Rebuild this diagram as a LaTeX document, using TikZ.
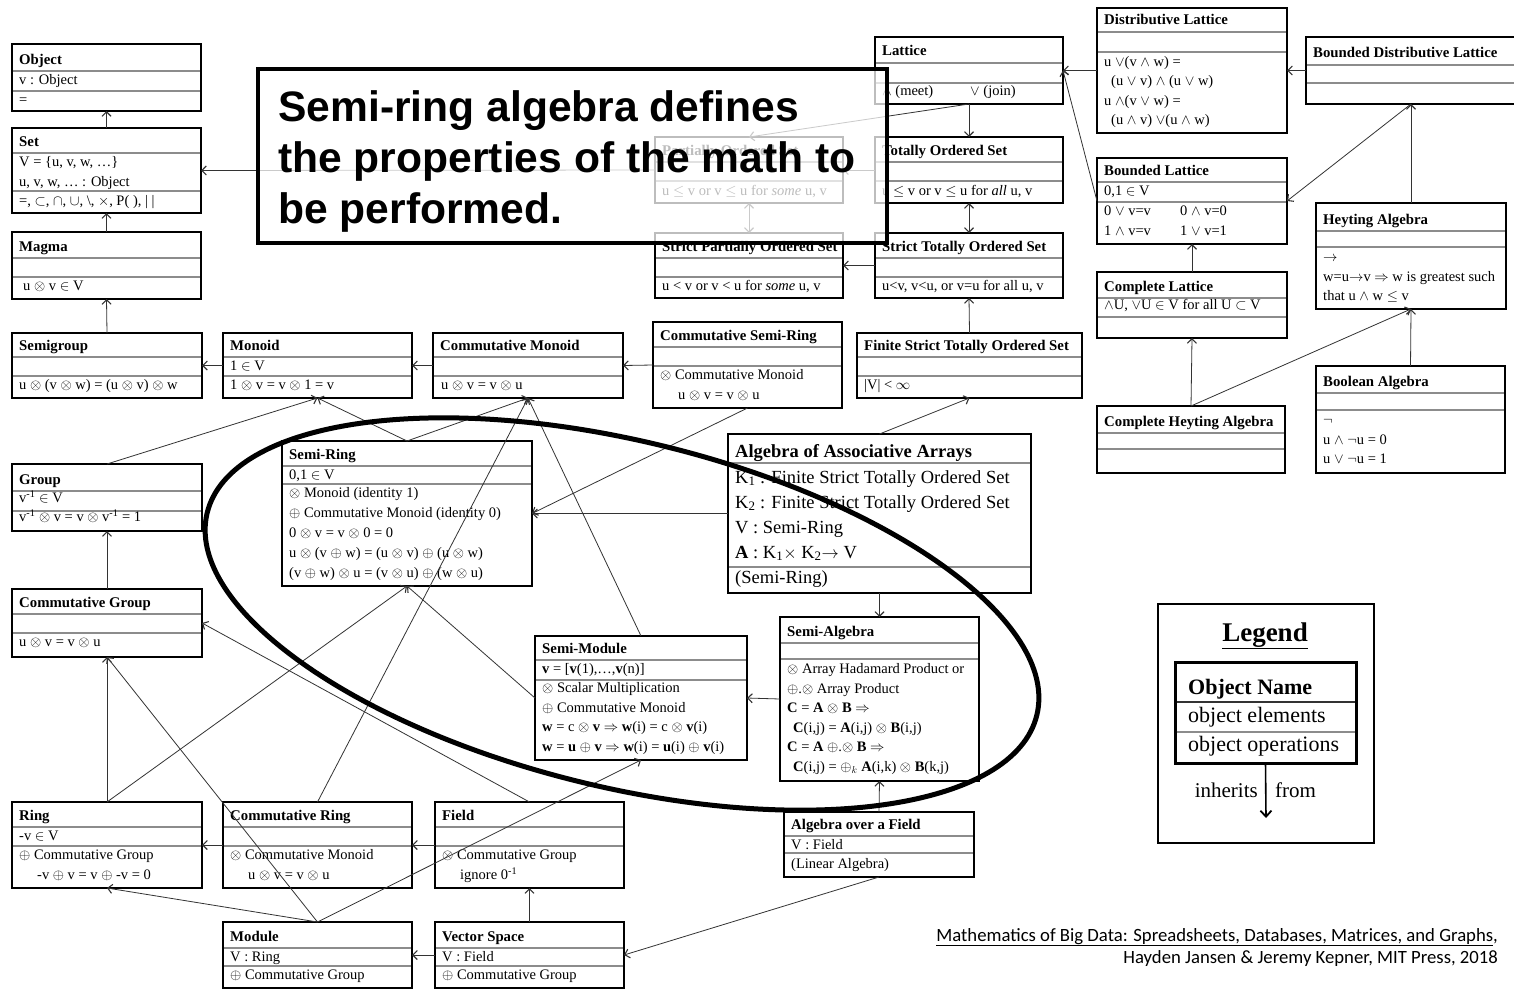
\documentclass[tikz,border=0pt]{standalone}
\usepackage{fontspec}
\setmainfont{Liberation Serif}
\newfontfamily\calloutfont{Liberation Sans}
\newfontfamily\notefont{Carlito}
\usetikzlibrary{arrows.meta}

\tikzset{
  frame/.style={draw=black, line width=2.2pt, inner sep=0pt, outer sep=0pt, anchor=north west},
  divider/.style={draw=black!45, line width=1.3pt},
  ttl/.style={font=\fontsize{14.8}{17}\selectfont\bfseries, anchor=base west, inner sep=0pt},
  txt/.style={font=\fontsize{14.5}{17}\selectfont, anchor=base west, inner sep=0pt},
  txtL/.style={font=\fontsize{18.5}{22}\selectfont, anchor=base west, inner sep=0pt},
  barb/.tip={Straight Barb[length=4.5pt, width=9pt, line width=1.1pt]},
  conn/.style={draw=black!80, line width=0.8pt, -barb},
  conn2/.style={draw=black!80, line width=0.8pt, barb-barb},
  bigtext/.style={font=\calloutfont\bfseries\fontsize{42.6}{51}\selectfont, anchor=base west, inner sep=0pt},
}

% class box: name, x0, y0, x1, y1, first divider, second divider, title
\newcommand{\cls}[8]{%
  \node[frame, minimum width={#4-#2}, minimum height={#5-#3}] (#1) at (#2,#3) {};
  \draw[divider] ({#2+1.1},#6) -- ({#4-1.1},#6);
  \draw[divider] ({#2+1.1},#7) -- ({#4-1.1},#7);
  \node[ttl] (#1-title) at ({#2+7},{#6-7}) {#8};
}
% stacked text rows: name prefix, x, first baseline, step, {items}
\newcommand{\rows}[5]{%
  \foreach \rowtext [count=\rowi] in {#5}{%
    \node[txt] (#1-\rowi) at ({#2},{#3+(\rowi-1)*(#4)}) {\rowtext};}%
}

\begin{document}
\begin{tikzpicture}[x=1pt, y=-1pt]
\useasboundingbox (0,0) rectangle (1514,990);
\fill[white] (0,0) rectangle (1514,990);

% ---------------- algebraic structures ----------------
\cls{object}{12}{44}{201}{111}{71}{91}{Object}
\node[txt] (object-e) at (19,84) {v : Object};
\node[txt] (object-o) at (19,104) {=};

\cls{set}{12}{128}{201}{213}{153}{191}{Set}
\rows{set-e}{19}{166.5}{19.5}{{V = \{u, v, w, …\}},{u, v, w, … : Object}}
\node[txt] (set-o) at (19,205) {=, $\subset$, $\cap$, $\cup$, \textbackslash, $\times$, P(~), |~|};

\cls{magma}{12}{232}{201}{299}{258}{277}{Magma}
\node[txt] (magma-o) at (23,290.5) {u $\otimes$ v $\in$ V};

\cls{semigroup}{12}{333}{202}{398}{357}{376}{Semigroup}
\node[txt] (semigroup-o) at (19,389.5) {u $\otimes$ (v $\otimes$ w) = (u $\otimes$ v) $\otimes$ w};

\cls{monoid}{223}{333}{412}{398}{357}{376}{Monoid}
\node[txt] (monoid-e) at (230,370.5) {1 $\in$ V};
\node[txt] (monoid-o) at (230,389.5) {1 $\otimes$ v = v $\otimes$ 1 = v};

\cls{commmonoid}{433}{333}{623}{398}{357}{376}{Commutative Monoid}
\node[txt] (commmonoid-o) at (441,389.5) {u $\otimes$ v = v $\otimes$ u};

\cls{commsemiring}{653}{322}{842}{408}{347}{366}{Commutative Semi-Ring}
\rows{commsemiring-o}{660}{379.5}{20}{{$\otimes$ Commutative Monoid},{\hspace*{18pt}u $\otimes$ v = v $\otimes$ u}}

\cls{finite}{857}{333}{1082}{398}{357}{376}{Finite Strict Totally Ordered Set}
\node[txt] (finite-o) at (864,389.5) {|V| < $\infty$};

\cls{group}{12}{464}{202}{531}{491}{511}{Group}
\node[txt] (group-e) at (19,502.5) {v\textsuperscript{-1} $\in$ V};
\node[txt] (group-o) at (19,521.5) {v\textsuperscript{-1} $\otimes$ v = v $\otimes$ v\textsuperscript{-1} = 1};

\cls{semiring}{282}{441}{532}{586}{466}{484}{Semi-Ring}
\node[txt] (semiring-e) at (289,479.5) {0,1 $\in$ V};
\rows{semiring-o}{289}{497.5}{20}{{$\otimes$ Monoid (identity 1)},{$\oplus$ Commutative Monoid (identity 0)},{0 $\otimes$ v = v $\otimes$ 0 = 0},{u $\otimes$ (v $\oplus$ w) = (u $\otimes$ v) $\oplus$ (u $\otimes$ w)},{(v $\oplus$ w) $\otimes$ u = (v $\otimes$ u) $\oplus$ (w $\otimes$ u)}}

\cls{commgroup}{12}{589}{202}{657}{614}{633}{Commutative Group}
\node[txt] (commgroup-o) at (19,646.5) {u $\otimes$ v = v $\otimes$ u};

\cls{ring}{12}{802}{202}{888}{827}{846}{Ring}
\node[txt] (ring-e) at (19,840.5) {-v $\in$ V};
\rows{ring-o}{19}{859.5}{20}{{$\oplus$ Commutative Group},{\hspace*{18pt}-v $\oplus$ v = v $\oplus$ -v = 0}}

\cls{commring}{223}{802}{412}{888}{827}{846}{Commutative Ring}
\rows{commring-o}{230}{859.5}{20}{{$\otimes$ Commutative Monoid},{\hspace*{18pt}u $\otimes$ v = v $\otimes$ u}}

\cls{field}{435}{802}{624}{888}{827}{846}{Field}
\rows{field-o}{442}{859.5}{20}{{$\otimes$ Commutative Group},{\hspace*{18pt}ignore 0\textsuperscript{-1}}}

\cls{module}{223}{922}{412}{988}{948}{966}{Module}
\node[txt] (module-e) at (230,961) {V : Ring};
\node[txt] (module-o) at (230,979.5) {$\oplus$ Commutative Group};

\cls{vectorspace}{435}{922}{624}{988}{948}{966}{Vector Space}
\node[txt] (vectorspace-e) at (442,961) {V : Field};
\node[txt] (vectorspace-o) at (442,979.5) {$\oplus$ Commutative Group};

\cls{semimodule}{535}{636}{747}{760}{660}{680}{Semi-Module}
\node[txt] (semimodule-e) at (542,673.5) {\textbf{v} = [\textbf{v}(1),…,\textbf{v}(n)]};
\rows{semimodule-o}{542}{692.5}{19.7}{{$\otimes$ Scalar Multiplication},{$\oplus$ Commutative Monoid},{\textbf{w} = c $\otimes$ \textbf{v} $\Rightarrow$ \textbf{w}(i) = c $\otimes$ \textbf{v}(i)},{\textbf{w} = \textbf{u} $\oplus$ \textbf{v} $\Rightarrow$ \textbf{w}(i) = \textbf{u}(i) $\oplus$ \textbf{v}(i)}}

\cls{semialgebra}{780}{617}{979}{781}{643}{659}{Semi-Algebra}
\rows{semialgebra-o}{787}{673.5}{19.6}{{$\otimes$ Array Hadamard Product or},{$\oplus$.$\otimes$ Array Product},{\textbf{C} = \textbf{A} $\otimes$ \textbf{B} $\Rightarrow$},{\hspace*{6pt}\textbf{C}(i,j) = \textbf{A}(i,j) $\otimes$ \textbf{B}(i,j)},{\textbf{C} = \textbf{A} $\oplus$.$\otimes$ \textbf{B} $\Rightarrow$},{\hspace*{6pt}\textbf{C}(i,j) = $\oplus_k$ \textbf{A}(i,k) $\otimes$ \textbf{B}(k,j)}}

\cls{aof}{784}{812}{974}{877}{836}{853}{Algebra over a Field}
\node[txt] (aof-e) at (791,849.5) {V : Field};
\node[txt] (aof-o) at (791,868.5) {(Linear Algebra)};

% associative arrays (larger type)
\node[frame, minimum width=303, minimum height=159] (aaa) at (728,434) {};
\draw[divider] (729.1,463) -- (1029.9,463);
\draw[divider] (729.1,567) -- (1029.9,567);
\node[txtL, font=\fontsize{18.5}{22}\selectfont\bfseries] (aaa-title) at (735,457.5) {Algebra of Associative Arrays};
\foreach \rowtext [count=\rowi] in {{K\textsubscript{1} : Finite Strict Totally Ordered Set},{K\textsubscript{2} : Finite Strict Totally Ordered Set},{V : Semi-Ring},{\textbf{A} : K\textsubscript{1}$\times$ K\textsubscript{2}$\rightarrow$ V}}{%
  \node[txtL] (aaa-e\rowi) at (735,{483+(\rowi-1)*25}) {\rowtext};}
\node[txtL] (aaa-o) at (735,583) {(Semi-Ring)};

% ---------------- order and lattice structures ----------------
\cls{lattice}{875}{37}{1063}{104}{63}{83}{Lattice}
\node[txt] (lattice-o1) at (882,95.5) {$\wedge$ (meet)};
\node[txt] (lattice-o2) at (970,95.5) {$\vee$ (join)};

\cls{tos}{875}{137}{1063}{203}{162}{181}{Totally Ordered Set}
\node[txt] (tos-o) at (882,195.5) {u $\le$ v or v $\le$ u for \textit{all} u, v};

\cls{pos}{655}{137}{843}{203}{162}{181}{Partially Ordered Set}
\node[txt] (pos-o) at (662,195.5) {u $\le$ v or v $\le$ u for \textit{some} u, v};

\cls{spos}{655}{233}{843}{298}{258}{277}{Strict Partially Ordered Set}
\node[txt] (spos-o) at (662,290.5) {u < v or v < u for \textit{some} u, v};

\cls{stos}{875}{233}{1063}{298}{258}{277}{Strict Totally Ordered Set}
\node[txt] (stos-o) at (882,290.5) {u<v, v<u, or v=u for all u, v};

\cls{dl}{1097}{8}{1287}{133}{32}{52}{Distributive Lattice}
\rows{dl-o}{1104}{66.5}{19.4}{{u $\vee$(v $\wedge$ w) =},{\hspace*{7pt}(u $\vee$ v) $\wedge$ (u $\vee$ w)},{u $\wedge$(v $\vee$ w) =},{\hspace*{7pt}(u $\wedge$ v) $\vee$(u $\wedge$ w)}}

\cls{bdl}{1306}{37}{1516}{104}{65}{83}{Bounded Distributive Lattice}

\cls{bl}{1097}{158}{1287}{244}{182}{202}{Bounded Lattice}
\node[txt] (bl-e) at (1104,195.5) {0,1 $\in$ V};
\rows{bl-oa}{1104}{215.5}{19.5}{{0 $\vee$ v=v},{1 $\wedge$ v=v}}
\rows{bl-ob}{1180}{215.5}{19.5}{{0 $\wedge$ v=0},{1 $\vee$ v=1}}

\cls{cl}{1097}{272}{1287}{338}{298}{317}{Complete Lattice}
\node[txt] (cl-e) at (1104,309.5) {$\wedge$U, $\vee$U $\in$ V for all U $\subset$ V};

\cls{heyting}{1316}{203}{1506}{309}{231}{247}{Heyting Algebra}
\rows{heyting-o}{1323}{261.5}{19.5}{{$\rightarrow$},{w=u$\rightarrow$v $\Rightarrow$ w is greatest such},{that u $\wedge$ w $\le$ v}}

\cls{boolean}{1316}{366}{1505}{473}{393}{410}{Boolean Algebra}
\rows{boolean-o}{1323}{424.5}{19.5}{{$\neg$},{u $\wedge$ $\neg$u = 0},{u $\vee$ $\neg$u = 1}}

\cls{cha}{1097}{406}{1285}{473}{433}{449}{Complete Heyting Algebra}

% ---------------- inheritance connectors ----------------
\draw[conn] (set.north) -- (object.south);
\draw[conn] (magma.north) -- (set.south);
\draw[conn] (semigroup.north) -- (magma.south);
\draw[conn] (monoid.west) -- (semigroup.east);
\draw[conn] (commmonoid.west) -- (monoid.east);
\draw[conn] (commsemiring.west) -- (commmonoid.east);
\draw[conn] (group.north) -- (monoid.south);
\draw[conn] (semiring.north) -- (monoid.south);
\draw[conn] (semiring.north) -- (commmonoid.south);
\draw[conn] (semimodule.north) -- (commmonoid.south);
\draw[conn] (commring.north) -- (commmonoid.south);
\draw[conn] (commsemiring.south) -- (semiring.east);
\draw[conn] (aaa.west) -- (semiring.east);
\draw[conn] (aaa.north) -- (finite.south);
\draw[conn] (finite.north) -- (stos.south);
\draw[conn] (stos.west) -- (spos.east);
\draw[conn2] (tos.south) -- (stos.north);
\draw[conn] (lattice.south) -- (tos.north);
\draw[conn] (dl.west) -- (lattice.east);
\draw[conn] (bl.west) -- (lattice.east);
\draw[conn] (bdl.west) -- (dl.east);
\draw[conn] (bdl.south) -- (bl.east);
\draw[conn] (heyting.north) -- (bdl.south);
\draw[conn] (cl.north) -- (bl.south);
\draw[conn] (boolean.north) -- (heyting.south);
\draw[conn] (cha.north) -- (cl.south);
\draw[conn] (cha.north) -- (heyting.south);
\draw[conn] (commgroup.north) -- (group.south);
\draw[conn] (ring.north) -- (commgroup.south);
\draw[conn] (ring.north) -- (semiring.south);
\draw[conn] (module.north) -- (commgroup.south);
\draw[conn] (module.north) -- (ring.south);
\draw[conn] (module.north) -- (semimodule.south);
\draw[conn] (semimodule.west) -- (semiring.south);
\draw[conn] (field.north) -- (commgroup.east);
\draw[conn] (commring.west) -- (ring.east);
\draw[conn] (field.west) -- (commring.east);
\draw[conn] (vectorspace.north) -- (field.south);
\draw[conn] (vectorspace.west) -- (module.east);
\draw[conn] (aof.south) -- (vectorspace.east);
\draw[conn] (aof.north) -- (semialgebra.south);
\draw[conn] (aaa.south) -- (semialgebra.north);
\draw[conn] (semialgebra.west) -- (semimodule.east);
\draw[conn] (lattice.south) -- (pos.north);
\draw[conn2] (pos.south) -- (spos.north);
\draw[conn] (tos.west) -- (pos.east);
\draw[conn] (pos.west) -- (set.east);

% semi-ring family highlight
\draw[line width=5pt, rotate around={-13.7:(622,614)}] (622,614) ellipse [x radius=427pt, y radius=173pt];

% callout
\node[draw=black, line width=3.5pt, fill=white, fill opacity=0.74, draw opacity=1,
      minimum width=629, minimum height=174, anchor=north west, inner sep=0pt, outer sep=0pt] (callout) at (258,69) {};
\node[bigtext] (callout-1) at (278,121) {Semi-ring algebra defines};
\node[bigtext] (callout-2) at (278,172) {the properties of the math to};
\node[bigtext] (callout-3) at (278,223) {be performed.};

% legend
\node[draw=black, line width=2.5pt, minimum width=216, minimum height=239, anchor=north west, inner sep=0pt, outer sep=0pt] (legend) at (1158,604) {};
\node[font=\fontsize{27}{30}\selectfont\bfseries, anchor=base, inner sep=0pt] (legend-title) at (1265,641) {\underline{Legend}};
\node[draw=black, line width=3pt, minimum width=181, minimum height=101, anchor=north west, inner sep=0pt, outer sep=0pt] (leginner) at (1175,662) {};
\draw[draw=black!80, line width=1.6pt] (1176.5,702) -- (1354.5,702);
\draw[divider, line width=2pt] (1176.5,732) -- (1354.5,732);
\node[font=\fontsize{22}{24}\selectfont\bfseries, anchor=base west, inner sep=0pt] (leg-name) at (1188,694) {Object Name};
\node[font=\fontsize{22}{24}\selectfont, anchor=base west, inner sep=0pt] (leg-elem) at (1188,722) {object elements};
\node[font=\fontsize{22}{24}\selectfont, anchor=base west, inner sep=0pt] (leg-ops) at (1188,751) {object operations};
\coordinate (legtip) at (1266,818);
\draw[line width=1.6pt, -{Straight Barb[length=6pt, width=11pt, line width=1.8pt]}] (leginner.south) -- (legtip);
\node[font=\fontsize{21}{24}\selectfont, anchor=base east, inner sep=0pt] (leg-inh) at (1258,797) {inherits};
\node[font=\fontsize{21}{24}\selectfont, anchor=base west, inner sep=0pt] (leg-from) at (1275,797) {from};

% citation
\node[font=\notefont\fontsize{18.7}{21}\selectfont, anchor=base east, inner sep=0pt] (cite-1) at (1498,941) {\underline{Mathematics of Big Data: Spreadsheets, Databases, Matrices, and Graphs},};
\node[font=\notefont\fontsize{18.7}{21}\selectfont, anchor=base east, inner sep=0pt] (cite-2) at (1498,963) {Hayden Jansen \& Jeremy Kepner, MIT Press, 2018};
\end{tikzpicture}
\end{document}
